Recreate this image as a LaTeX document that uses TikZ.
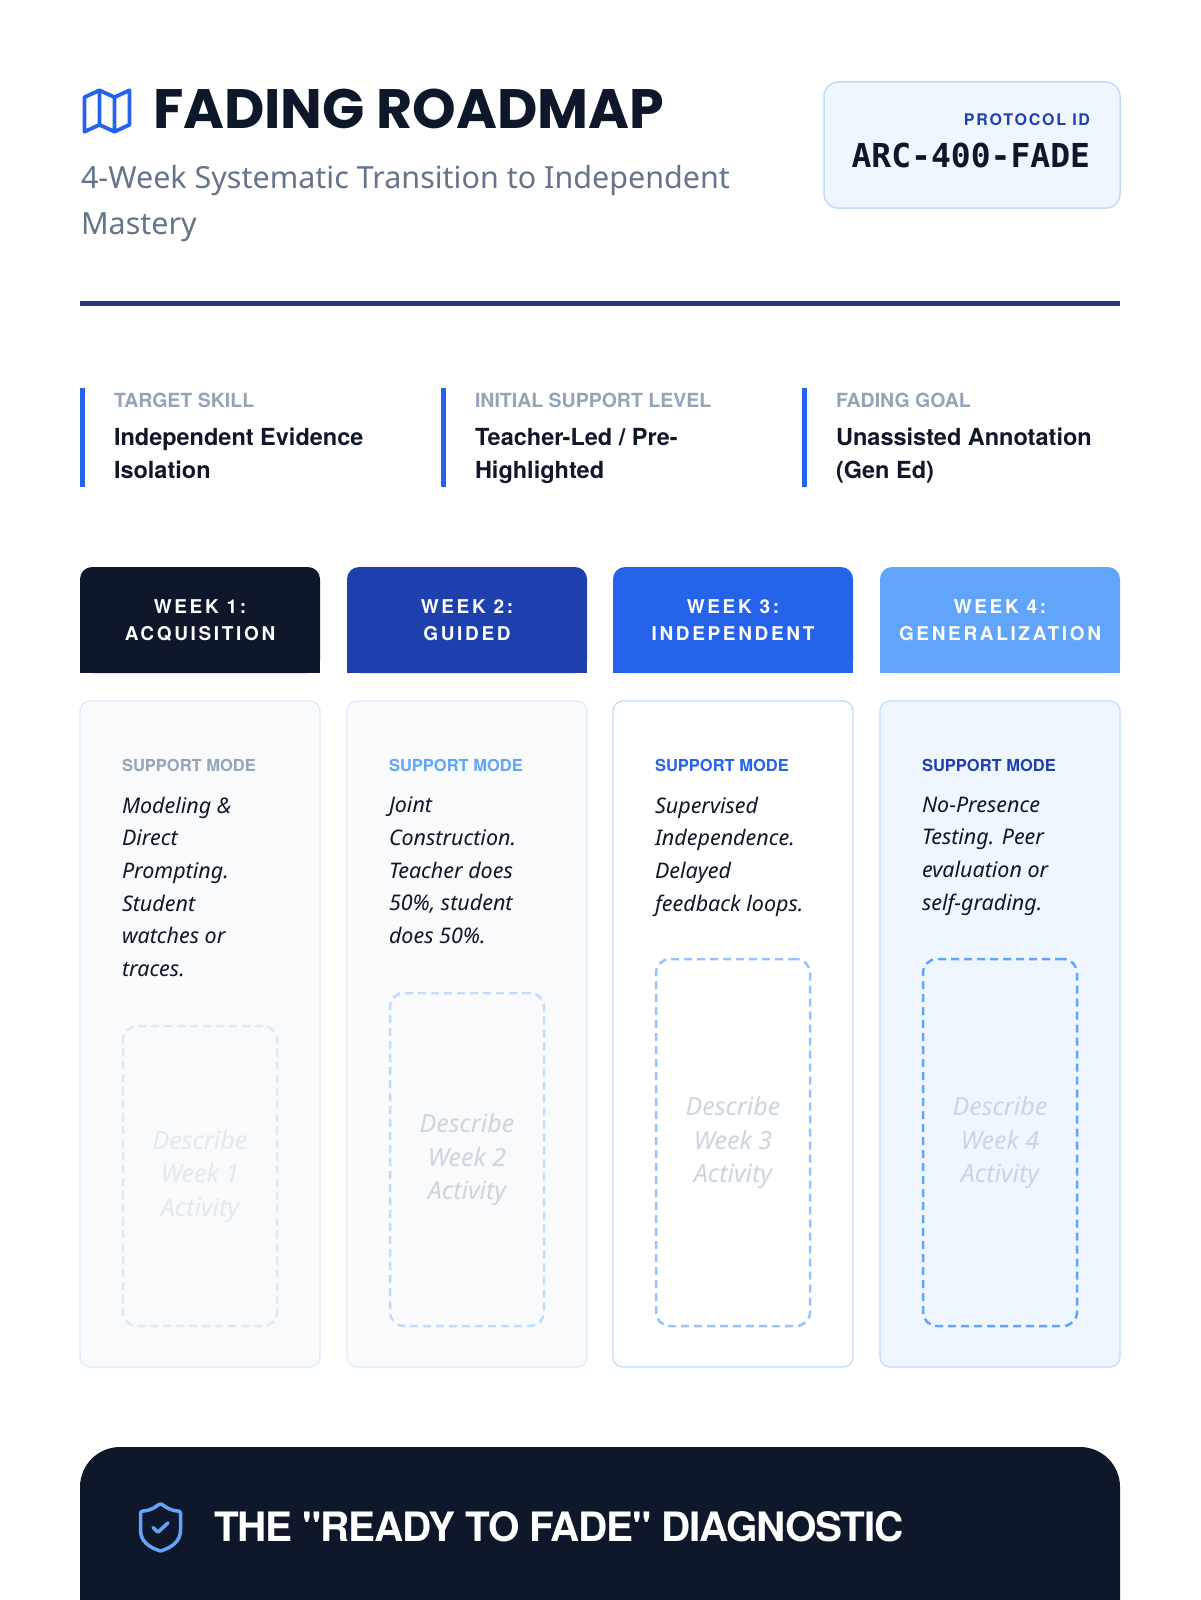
\documentclass[tikz,border=0pt]{standalone}
\usepackage{fontspec}
\setmainfont{Noto Sans}
\newfontfamily\titlefont{Poppins}
\newfontfamily\idfont{DejaVu Sans Mono}
\newfontfamily\heavyfont{TeX Gyre Heros}
\newfontfamily\headfont[LetterSpace=14]{TeX Gyre Heros}
\newfontfamily\tagfont[LetterSpace=11]{TeX Gyre Heros}
\newfontfamily\tightfont[LetterSpace=-3]{TeX Gyre Heros}
\definecolor{ink}{HTML}{0F172A}
\definecolor{slatefive}{HTML}{64748B}
\definecolor{slatefour}{HTML}{94A3B8}
\definecolor{slatethree}{HTML}{CBD5E1}
\definecolor{slatetwo}{HTML}{E2E8F0}
\definecolor{slateone}{HTML}{F8FAFC}
\definecolor{navy}{HTML}{1E3A8A}
\definecolor{blueeight}{HTML}{1E40AF}
\definecolor{bluesix}{HTML}{2563EB}
\definecolor{bluefour}{HTML}{60A5FA}
\definecolor{bluethree}{HTML}{93C5FD}
\definecolor{bluetwo}{HTML}{BFDBFE}
\definecolor{blueone}{HTML}{DBEAFE}
\definecolor{bluezero}{HTML}{EFF6FF}
\begin{document}
\begin{tikzpicture}
	[x=1pt, y=-1pt,
	every node/.style={inner sep=0pt, outer sep=0pt},
	weekhead/.style={minimum width=240pt, minimum height=106pt, rounded corners=12pt, text=white, align=center, font=\headfont\bfseries\fontsize{19}{27}\selectfont},
	weekcard/.style={minimum width=240pt, minimum height=666pt, rounded corners=10pt, line width=1.2pt},
	slot/.style={minimum width=154pt, rounded corners=14pt, dash pattern=on 8pt off 5pt, line width=2.5pt, align=center, font=\itshape\fontsize{25}{33.5}\selectfont},
	modetag/.style={anchor=west, font=\heavyfont\bfseries\fontsize{16.5}{20}\selectfont},
	modetext/.style={anchor=north west, align=left, text=ink, font=\itshape\fontsize{21.5}{32.6}\selectfont},
	infobar/.style={anchor=north west, fill=bluesix, minimum width=5pt, minimum height=99pt},
	infotag/.style={anchor=west, text=slatefour, font=\heavyfont\bfseries\fontsize{19.5}{22}\selectfont},
	infotext/.style={anchor=north west, align=left, text=ink, font=\heavyfont\bfseries\fontsize{23.5}{33}\selectfont}]
	\fill[white] (0,0) rectangle (1200,1600);
	\useasboundingbox (0,0) rectangle (1200,1600);
	% title block
	\draw[bluesix, line width=3.8pt, line join=round, shift={(107,111)}, x=2.5pt, y=-2.3pt]
	(-9,-6) -- (-3,-9) -- (3,-6) -- (9,-9) -- (9,6) -- (3,9) -- (-3,6) -- (-9,9) -- cycle
	(-3,-9) -- (-3,6) (3,-6) -- (3,9);
	\node[anchor=west, text=ink, font=\titlefont\bfseries\fontsize{55.5}{58}\selectfont] (title) at (153,109) {FADING ROADMAP};
	\node[anchor=north west, align=left, text=slatefive, font=\fontsize{30.5}{46}\selectfont] (subtitle) at (81,165) {4-Week Systematic Transition to Independent\\Mastery};
	\node[fill=bluezero, draw=bluetwo, line width=1.5pt, rounded corners=14pt, minimum width=296pt, minimum height=126pt] (idbox) at (972,145) {};
	\node[anchor=east, text=blueeight, font=\tagfont\bfseries\fontsize{16}{18}\selectfont] (idtag) at (1090,120) {PROTOCOL ID};
	\node[anchor=east, text=ink, font=\idfont\bfseries\fontsize{33}{36}\selectfont] (idcode) at (1090,155) {ARC-400-FADE};
	\node[anchor=west, fill=navy, minimum width=1040pt, minimum height=5pt] (rule) at (80,303.5) {};
	% summary
	\node[infobar] (bar1) at (80,388) {};
	\node[infotag] (tag1) at (114,400) {TARGET SKILL};
	\node[infotext] (skill) at (114,428) {Independent Evidence\\Isolation};
	\node[infobar] (bar2) at (441,388) {};
	\node[infotag] (tag2) at (475,400) {INITIAL SUPPORT LEVEL};
	\node[infotext] (level) at (475,428) {Teacher-Led / Pre-\\Highlighted};
	\node[infobar] (bar3) at (802,388) {};
	\node[infotag] (tag3) at (836,400) {FADING GOAL};
	\node[infotext] (goal) at (836,428) {Unassisted Annotation\\(Gen Ed)};
	% week 1
	\node[weekhead, fill=ink] (head1) at (200,620) {WEEK 1:\\ACQUISITION};
	\fill[ink] ([yshift=20pt]head1.south west) rectangle (head1.south east);
	\node[weekcard, fill=slateone, draw=blueone] (card1) at (200,1034) {};
	\node[modetag, text=slatefour] (mode1) at (122,765) {SUPPORT MODE};
	\node[modetext] (text1) at (122,797) {Modeling \&\\Direct\\Prompting.\\Student\\watches or\\traces.};
	\node[slot, draw=slatetwo, text=slatetwo, minimum height=300pt] (slot1) at (200,1176) {Describe\\Week 1\\Activity};
	% week 2
	\node[weekhead, fill=blueeight] (head2) at (467,620) {WEEK 2:\\GUIDED};
	\fill[blueeight] ([yshift=20pt]head2.south west) rectangle (head2.south east);
	\node[weekcard, fill=slateone, draw=blueone] (card2) at (467,1034) {};
	\node[modetag, text=bluefour] (mode2) at (389,765) {SUPPORT MODE};
	\node[modetext] (text2) at (389,797) {Joint\\Construction.\\Teacher does\\50\%, student\\does 50\%.};
	\node[slot, draw=bluetwo, text=slatethree, minimum height=333pt] (slot2) at (467,1159.5) {Describe\\Week 2\\Activity};
	% week 3
	\node[weekhead, fill=bluesix] (head3) at (733,620) {WEEK 3:\\INDEPENDENT};
	\fill[bluesix] ([yshift=20pt]head3.south west) rectangle (head3.south east);
	\node[weekcard, fill=white, draw=bluetwo] (card3) at (733,1034) {};
	\node[modetag, text=bluesix] (mode3) at (655,765) {SUPPORT MODE};
	\node[modetext] (text3) at (655,797) {Supervised\\Independence.\\Delayed\\feedback loops.};
	\node[slot, draw=bluethree, text=slatethree, minimum height=367pt] (slot3) at (733,1142.5) {Describe\\Week 3\\Activity};
	% week 4
	\node[weekhead, fill=bluefour] (head4) at (1000,620) {WEEK 4:\\GENERALIZATION};
	\fill[bluefour] ([yshift=20pt]head4.south west) rectangle (head4.south east);
	\node[weekcard, fill=bluezero, draw=bluetwo] (card4) at (1000,1034) {};
	\node[modetag, text=blueeight] (mode4) at (922,765) {SUPPORT MODE};
	\node[modetext] (text4) at (922,797) {No-Presence\\Testing. Peer\\evaluation or\\self-grading.};
	\node[slot, draw=bluefour, text=slatethree, minimum height=367pt] (slot4) at (1000,1142.5) {Describe\\Week 4\\Activity};
	% diagnostic panel
	\node[anchor=north, fill=ink, rounded corners=40pt, minimum width=1040pt, minimum height=240pt] (diag) at (600,1447) {};
	\draw[bluefour, line width=3.5pt, line join=round, line cap=round, shift={(160.5,1527.5)}, x=2.5pt, y=-2.35pt]
	(8,-6) -- (8,1) .. controls (8,6) and (4.5,8.5) .. (0,10) .. controls (-4.5,8.5) and (-8,6) .. (-8,1) -- (-8,-6)
	.. controls (-8,-6.6) and (-7.6,-7) .. (-7,-7) .. controls (-5,-7) and (-2.5,-8.2) .. (-0.76,-9.72)
	.. controls (-0.3,-10.1) and (0.3,-10.1) .. (0.76,-9.72) .. controls (2.5,-8.2) and (5,-7) .. (7,-7)
	.. controls (7.6,-7) and (8,-6.6) .. (8,-6)
	(-3,0) -- (-1,2) -- (3,-2);
	\node[anchor=west, text=white, font=\tightfont\bfseries\fontsize{40.5}{44}\selectfont] (diagtitle) at (214,1527) {THE "READY TO FADE" DIAGNOSTIC};
\end{tikzpicture}
\end{document}
